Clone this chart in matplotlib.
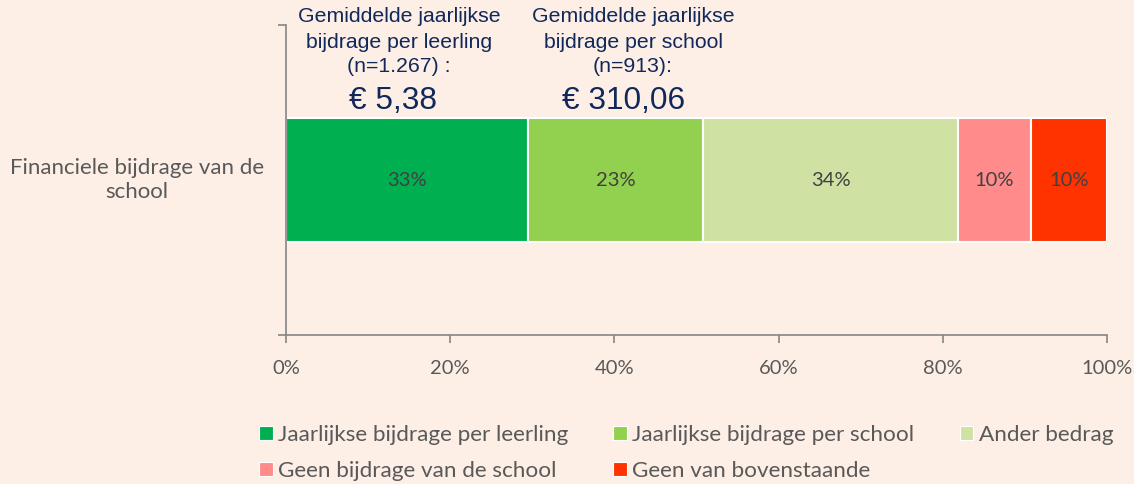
import matplotlib
matplotlib.use("Agg")
import matplotlib.pyplot as plt
from matplotlib.patches import Patch
import matplotlib.transforms as mtransforms

# ---- data ----
category = "Financiele bijdrage van de\nschool"
series_names = ["Jaarlijkse bijdrage per leerling", "Jaarlijkse bijdrage per school",
                "Ander bedrag", "Geen bijdrage van de school", "Geen van bovenstaande"]
# segment widths as drawn (share of 100%)
series_values = [29.5, 21.3, 31.1, 8.8, 9.3]
# labels printed in the segments
series_labels = ["33%", "23%", "34%", "10%", "10%"]
series_colors = ["#00B050", "#92D050", "#CFE2A4", "#FF8B8B", "#FF3300"]
xticks = [0, 20, 40, 60, 80, 100]
xtick_labels = ["0%", "20%", "40%", "60%", "80%", "100%"]
note_titles = ["Gemiddelde jaarlijkse\nbijdrage per leerling\n(n=1.267) :",
               "Gemiddelde jaarlijkse\nbijdrage per school\n(n=913):"]
note_values = ["€ 5,38", "€ 310,06"]

BG = "#FDEFE6"
GRAY_TXT = "#595959"
AXIS_GRAY = "#868686"
NAVY = "#10285A"
FONT = ["Lato", "DejaVu Sans"]
ARIAL = ["Liberation Sans", "DejaVu Sans"]

W, H = 1134, 484
fig = plt.figure(figsize=(W / 100, H / 100), dpi=100, facecolor=BG)
ax = fig.add_axes([286 / W, 1 - 335 / H, (1107 - 286) / W, (335 - 25) / H])
ax.set_facecolor(BG)

left = 0
for v, lab, col in zip(series_values, series_labels, series_colors):
    ax.barh(0, v, left=left, height=0.4, color=col, edgecolor="white", linewidth=1.5)
    ax.text(left + v / 2, 0, lab, ha="center", va="center", fontsize=14.5,
            color="#404040", family=FONT)
    left += v

ax.set_xlim(0, 100)
ax.set_ylim(-0.5, 0.5)
ax.set_xticks(xticks, labels=xtick_labels)
ax.set_yticks([-0.5, 0.5], labels=["", ""])
for s in ["top", "right"]:
    ax.spines[s].set_visible(False)
for s in ["left", "bottom"]:
    ax.spines[s].set_color(AXIS_GRAY)
    ax.spines[s].set_linewidth(1.2)
ax.tick_params(axis="both", direction="out", length=6, width=1.2, color=AXIS_GRAY,
               labelcolor=GRAY_TXT, labelsize=14.5, pad=12)
for t in ax.get_xticklabels():
    t.set_family(FONT)

# category label
trans = mtransforms.blended_transform_factory(fig.transFigure, ax.transData)
ax.text(137 / W, 0, category, transform=trans, ha="center", va="center",
        multialignment="center", fontsize=16, color=GRAY_TXT, family=FONT,
        linespacing=1.2)

# annotations above the bar
note_x = [399, 633]
value_x = [393, 624]
for tx, vx, t, v in zip(note_x, value_x, note_titles, note_values):
    fig.text(tx / W, 1 - 42 / H, t, ha="center", va="center", multialignment="center",
             fontsize=15.3, color=NAVY, family=ARIAL, linespacing=1.4)
    fig.text(vx / W, 1 - 101 / H, v, ha="center", va="center", fontsize=22.8,
             color=NAVY, family=ARIAL)

# legend (row-major order)
handles = [Patch(facecolor=c, edgecolor="white", linewidth=0.8) for c in series_colors]
order = [0, 3, 1, 4, 2]
leg = fig.legend([handles[i] for i in order], [series_names[i] for i in order],
                 ncol=3, loc="upper left", bbox_to_anchor=(259 / W, 1 - 425 / H),
                 frameon=False, handlelength=0.6, handleheight=0.6, handletextpad=0.25,
                 columnspacing=2.0, labelspacing=0.7, borderaxespad=0, borderpad=0,
                 prop={"family": FONT, "size": 16.2})
for t in leg.get_texts():
    t.set_color(GRAY_TXT)

fig.savefig("out.png", dpi=100, facecolor=BG)
